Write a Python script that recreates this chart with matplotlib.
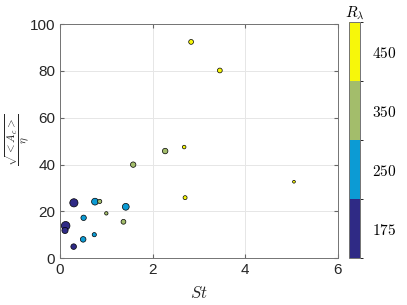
import numpy as np
import matplotlib.pyplot as plt
from matplotlib.colors import ListedColormap, BoundaryNorm

plt.rcParams['mathtext.fontset'] = 'cm'
plt.rcParams['font.family'] = ['Liberation Sans', 'DejaVu Sans']

# data
st = [2.83, 3.45, 2.27, 2.68, 5.05, 2.70, 1.58,
      0.30, 0.755, 0.857, 1.42, 1.00, 0.51, 1.37,
      0.122, 0.108, 0.50, 0.74, 0.295]
ac = [92.4, 80.2, 45.8, 47.5, 32.7, 25.9, 40.0,
      23.7, 24.2, 24.3, 22.0, 19.2, 17.3, 15.6,
      13.9, 11.9, 8.1, 10.1, 5.0]
r_lambda = [450, 450, 350, 450, 450, 450, 350,
            175, 250, 350, 250, 350, 250, 350,
            175, 175, 250, 250, 175]
# marker diameter in pixels (bubble size variable)
diam = [4.8, 4.8, 5.5, 3.6, 2.8, 4.0, 5.4,
        8.2, 6.8, 4.2, 6.8, 3.4, 5.4, 4.8,
        8.6, 6.2, 5.6, 4.2, 5.6]
r_levels = [175, 250, 350, 450]

colors = ['#2f2a85', '#0c9bd4', '#a3bd6b', '#f7f70a']
cmap = ListedColormap(colors)
norm = BoundaryNorm([0, 1, 2, 3, 4], cmap.N)
cidx = [r_levels.index(r) for r in r_lambda]

fig = plt.figure(figsize=(4.07, 3.05), dpi=100)
ax = fig.add_axes([0.1474, 0.153, 0.683, 0.768])
cax = fig.add_axes([0.857, 0.154, 0.027, 0.773])

sz = (np.array(diam) * 0.72) ** 2
sc = ax.scatter(st, ac, s=sz, c=cidx, cmap=cmap, norm=norm,
                edgecolors='k', linewidths=0.5, zorder=3)

ax.set_xlim(0, 6)
ax.set_ylim(0, 100)
ax.set_xticks([0, 2, 4, 6])
ax.set_yticks([0, 20, 40, 60, 80, 100])
ax.grid(True, color='#e6e6e6', linewidth=0.7)
ax.set_axisbelow(True)
ax.tick_params(direction='in', top=True, right=True, labelsize=11,
               length=3, color='0.4', labelcolor='#262626')
for s in ax.spines.values():
    s.set_color('0.45')
    s.set_linewidth(0.7)

ax.set_xlabel('$St$', fontsize=12, color='#262626')
ax.xaxis.set_label_coords(0.5, -0.115)
ax.set_ylabel(r'$\dfrac{\sqrt{<A_c>}}{\eta}$', fontsize=8, color='#262626')
ax.yaxis.set_label_coords(-0.105, 0.505)

cb = fig.colorbar(sc, cax=cax, ticks=[0.5, 1.5, 2.5, 3.5])
cb.ax.set_yticklabels(['$%d$' % r for r in r_levels], fontsize=11)
cb.ax.tick_params(length=0, pad=9)
cb.outline.set_edgecolor('0.45')
cb.outline.set_linewidth(0.7)
cb.ax.set_title(r'$R_\lambda$', fontsize=11, pad=3)

fig.savefig('out.png', dpi=100)
